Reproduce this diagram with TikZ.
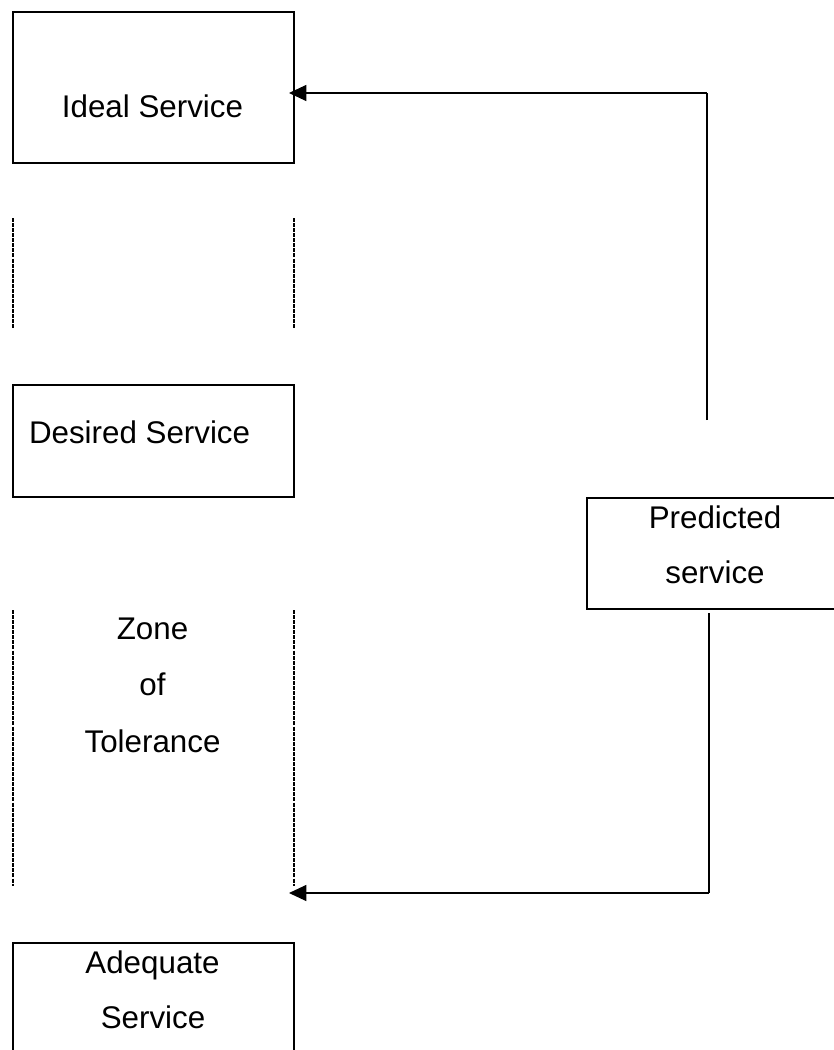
\documentclass[tikz,border=0pt]{standalone}
\usepackage{fontspec}
\setmainfont{Liberation Sans}
\usetikzlibrary{arrows.meta}
\begin{document}
\begin{tikzpicture}[x=0.75pt, y=-0.75pt,
  every node/.style={inner sep=0pt, outer sep=0pt},
  boxframe/.style={draw, line width=1.2pt, rectangle},
  label/.style={font=\fontsize{23.5}{42}\selectfont, anchor=base},
  zoneline/.style={line width=1.1pt, dash pattern=on 3pt off 0.8pt},
  link/.style={line width=0.9pt},
  tip/.style={-{Triangle[length=13pt, width=12pt]}}]

\useasboundingbox (0,0) rectangle (834,1050);

% service level boxes
\node[boxframe, minimum width=281*0.75pt, minimum height=151*0.75pt] (ideal) at (153.5,87.5) {};
\node[boxframe, minimum width=281*0.75pt, minimum height=112*0.75pt] (desired) at (153.5,441) {};
\node[boxframe, minimum width=281*0.75pt, minimum height=140*0.75pt] (adequate) at (153.5,1013) {};
\node[boxframe, minimum width=252*0.75pt, minimum height=111*0.75pt] (predicted) at (713,553.5) {};

% labels
\node[label] (idealtxt) at (152.5,117) {Ideal Service};
\node[label, anchor=base west] (desiredtxt) at (29,443) {Desired Service};
\node[label] (predtxt1) at (715,528) {Predicted};
\node[label] (predtxt2) at (715,583) {service};
\node[label] (zonetxt1) at (152.5,639) {Zone};
\node[label] (zonetxt2) at (152.5,695) {of};
\node[label] (zonetxt3) at (152.5,752) {Tolerance};
\node[label] (adqtxt1) at (152.5,973) {Adequate};
\node[label] (adqtxt2) at (153,1028) {Service};

% dashed side lines
\node (upper) at (153.5,273.5) [minimum width=281*0.75pt, minimum height=111*0.75pt] {};
\node (zone) at (153.5,748) [minimum width=281*0.75pt, minimum height=276*0.75pt] {};
\draw[zoneline] (upper.north west) -- (upper.south west);
\draw[zoneline] (upper.north east) -- (upper.south east);
\draw[zoneline] (zone.north west) -- (zone.south west);
\draw[zoneline] (zone.north east) -- (zone.south east);

% connectors from the predicted service
\coordinate (uptop) at (707,420);
\coordinate (upcorner) at (707,93);
\coordinate (lowstart) at (709,613);
\coordinate (lowcorner) at (709,893);
\draw[link] (uptop) -- (upcorner);
\draw[link, tip] (upcorner) -- ([xshift=-5*0.75pt]upcorner -| ideal.east);
\draw[link] (lowstart) -- (lowcorner);
\draw[link, tip] (lowcorner) -- ([xshift=-5*0.75pt]lowcorner -| zone.east);
\end{tikzpicture}
\end{document}
